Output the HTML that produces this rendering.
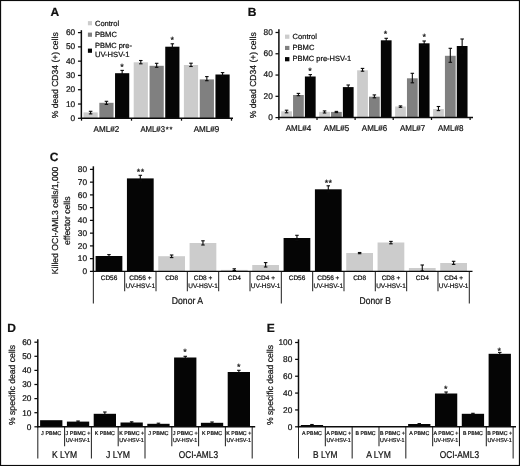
<!DOCTYPE html>
<html lang="en"><head><meta charset="utf-8"><title>Figure</title>
<style>
html,body{margin:0;padding:0;background:#fff;}
body{width:520px;height:466px;overflow:hidden;}
svg{display:block;font-family:"Liberation Sans", Arial, Helvetica, sans-serif;fill:#111;filter:blur(0.45px);text-rendering:geometricPrecision;}
text{stroke:#111;stroke-width:0.22px;}
</style></head><body>
<svg width="520" height="466" viewBox="0 0 520 466">
<rect x="0" y="0" width="520" height="466" fill="#ffffff"/>
<text x="50.40" y="16.00" font-size="12" text-anchor="start" font-weight="bold">A</text>
<text x="75.20" y="120.90" font-size="8.3" text-anchor="end">0</text>
<text x="75.20" y="106.62" font-size="8.3" text-anchor="end">10</text>
<text x="75.20" y="92.33" font-size="8.3" text-anchor="end">20</text>
<text x="75.20" y="78.05" font-size="8.3" text-anchor="end">30</text>
<text x="75.20" y="63.77" font-size="8.3" text-anchor="end">40</text>
<text x="75.20" y="49.48" font-size="8.3" text-anchor="end">50</text>
<text x="75.20" y="35.20" font-size="8.3" text-anchor="end">60</text>
<text x="57.90" y="75.30" font-size="8.7" text-anchor="middle" textLength="86.00" lengthAdjust="spacingAndGlyphs" transform="rotate(-90 57.90 75.30)">% dead CD34 (+) cells</text>
<rect x="83.50" y="112.40" width="14.20" height="5.90" fill="#cccccc"/>
<line x1="90.60" y1="111.30" x2="90.60" y2="113.90" stroke="#0a0a0a" stroke-width="1.1"/>
<line x1="88.85" y1="111.30" x2="92.35" y2="111.30" stroke="#0a0a0a" stroke-width="1.1"/>
<line x1="88.85" y1="113.90" x2="92.35" y2="113.90" stroke="#0a0a0a" stroke-width="1.1"/>
<rect x="99.35" y="102.80" width="14.20" height="15.50" fill="#808080"/>
<line x1="106.45" y1="101.30" x2="106.45" y2="104.40" stroke="#0a0a0a" stroke-width="1.1"/>
<line x1="104.70" y1="101.30" x2="108.20" y2="101.30" stroke="#0a0a0a" stroke-width="1.1"/>
<line x1="104.70" y1="104.40" x2="108.20" y2="104.40" stroke="#0a0a0a" stroke-width="1.1"/>
<rect x="115.05" y="73.20" width="14.20" height="45.10" fill="#050505"/>
<line x1="122.15" y1="70.40" x2="122.15" y2="76.00" stroke="#0a0a0a" stroke-width="1.1"/>
<line x1="120.40" y1="70.40" x2="123.90" y2="70.40" stroke="#0a0a0a" stroke-width="1.1"/>
<line x1="120.40" y1="76.00" x2="123.90" y2="76.00" stroke="#0a0a0a" stroke-width="1.1"/>
<rect x="133.70" y="62.30" width="14.20" height="56.00" fill="#cccccc"/>
<line x1="140.80" y1="60.50" x2="140.80" y2="63.80" stroke="#0a0a0a" stroke-width="1.1"/>
<line x1="139.05" y1="60.50" x2="142.55" y2="60.50" stroke="#0a0a0a" stroke-width="1.1"/>
<line x1="139.05" y1="63.80" x2="142.55" y2="63.80" stroke="#0a0a0a" stroke-width="1.1"/>
<rect x="149.55" y="65.80" width="14.20" height="52.50" fill="#808080"/>
<line x1="156.65" y1="63.30" x2="156.65" y2="67.30" stroke="#0a0a0a" stroke-width="1.1"/>
<line x1="154.90" y1="63.30" x2="158.40" y2="63.30" stroke="#0a0a0a" stroke-width="1.1"/>
<line x1="154.90" y1="67.30" x2="158.40" y2="67.30" stroke="#0a0a0a" stroke-width="1.1"/>
<rect x="165.25" y="46.70" width="14.20" height="71.60" fill="#050505"/>
<line x1="172.35" y1="43.80" x2="172.35" y2="49.50" stroke="#0a0a0a" stroke-width="1.1"/>
<line x1="170.60" y1="43.80" x2="174.10" y2="43.80" stroke="#0a0a0a" stroke-width="1.1"/>
<line x1="170.60" y1="49.50" x2="174.10" y2="49.50" stroke="#0a0a0a" stroke-width="1.1"/>
<rect x="183.90" y="65.00" width="14.20" height="53.30" fill="#cccccc"/>
<line x1="191.00" y1="63.20" x2="191.00" y2="66.50" stroke="#0a0a0a" stroke-width="1.1"/>
<line x1="189.25" y1="63.20" x2="192.75" y2="63.20" stroke="#0a0a0a" stroke-width="1.1"/>
<line x1="189.25" y1="66.50" x2="192.75" y2="66.50" stroke="#0a0a0a" stroke-width="1.1"/>
<rect x="199.75" y="79.40" width="14.20" height="38.90" fill="#808080"/>
<line x1="206.85" y1="76.60" x2="206.85" y2="80.70" stroke="#0a0a0a" stroke-width="1.1"/>
<line x1="205.10" y1="76.60" x2="208.60" y2="76.60" stroke="#0a0a0a" stroke-width="1.1"/>
<line x1="205.10" y1="80.70" x2="208.60" y2="80.70" stroke="#0a0a0a" stroke-width="1.1"/>
<rect x="215.45" y="74.50" width="14.20" height="43.80" fill="#050505"/>
<line x1="222.55" y1="72.60" x2="222.55" y2="76.40" stroke="#0a0a0a" stroke-width="1.1"/>
<line x1="220.80" y1="72.60" x2="224.30" y2="72.60" stroke="#0a0a0a" stroke-width="1.1"/>
<line x1="220.80" y1="76.40" x2="224.30" y2="76.40" stroke="#0a0a0a" stroke-width="1.1"/>
<text x="121.90" y="69.90" font-size="9" text-anchor="middle">*</text>
<text x="172.20" y="42.70" font-size="9" text-anchor="middle">*</text>
<text x="106.40" y="132.20" font-size="8.5" text-anchor="middle" textLength="25.60" lengthAdjust="spacingAndGlyphs">AML#2</text>
<text x="140.40" y="132.20" font-size="8.5" text-anchor="start" textLength="24.60" lengthAdjust="spacingAndGlyphs">AML#3</text>
<text x="167.30" y="131.95" font-size="7.5" text-anchor="middle">*</text>
<text x="171.00" y="131.95" font-size="7.5" text-anchor="middle">*</text>
<text x="206.50" y="132.20" font-size="8.5" text-anchor="middle" textLength="25.60" lengthAdjust="spacingAndGlyphs">AML#9</text>
<rect x="87.90" y="21.10" width="4.10" height="4.20" fill="#cccccc"/>
<text x="95.00" y="25.70" font-size="7.5" text-anchor="start" textLength="24.20" lengthAdjust="spacingAndGlyphs">Control</text>
<rect x="87.90" y="32.60" width="4.10" height="4.20" fill="#808080"/>
<text x="95.00" y="36.90" font-size="7.5" text-anchor="start" textLength="21.90" lengthAdjust="spacingAndGlyphs">PBMC</text>
<rect x="87.90" y="48.60" width="4.10" height="4.20" fill="#050505"/>
<text x="95.00" y="47.90" font-size="7.5" text-anchor="start" textLength="36.90" lengthAdjust="spacingAndGlyphs">PBMC pre-</text>
<text x="95.00" y="56.90" font-size="7.5" text-anchor="start" textLength="34.50" lengthAdjust="spacingAndGlyphs">UV-HSV-1</text>
<text x="247.80" y="15.80" font-size="12" text-anchor="start" font-weight="bold">B</text>
<text x="272.80" y="119.90" font-size="8.3" text-anchor="end">0</text>
<text x="272.80" y="98.62" font-size="8.3" text-anchor="end">20</text>
<text x="272.80" y="77.35" font-size="8.3" text-anchor="end">40</text>
<text x="272.80" y="56.07" font-size="8.3" text-anchor="end">60</text>
<text x="272.80" y="34.80" font-size="8.3" text-anchor="end">80</text>
<text x="255.60" y="75.30" font-size="8.7" text-anchor="middle" textLength="86.00" lengthAdjust="spacingAndGlyphs" transform="rotate(-90 255.60 75.30)">% dead CD34 (+) cells</text>
<rect x="281.20" y="111.30" width="10.75" height="6.30" fill="#cccccc"/>
<line x1="286.57" y1="110.20" x2="286.57" y2="112.80" stroke="#0a0a0a" stroke-width="1.1"/>
<line x1="284.82" y1="110.20" x2="288.32" y2="110.20" stroke="#0a0a0a" stroke-width="1.1"/>
<line x1="284.82" y1="112.80" x2="288.32" y2="112.80" stroke="#0a0a0a" stroke-width="1.1"/>
<rect x="293.05" y="95.00" width="10.75" height="22.60" fill="#808080"/>
<line x1="298.43" y1="93.40" x2="298.43" y2="95.70" stroke="#0a0a0a" stroke-width="1.1"/>
<line x1="296.68" y1="93.40" x2="300.18" y2="93.40" stroke="#0a0a0a" stroke-width="1.1"/>
<line x1="296.68" y1="95.70" x2="300.18" y2="95.70" stroke="#0a0a0a" stroke-width="1.1"/>
<rect x="304.90" y="76.50" width="10.75" height="41.10" fill="#050505"/>
<line x1="310.27" y1="74.60" x2="310.27" y2="78.00" stroke="#0a0a0a" stroke-width="1.1"/>
<line x1="308.52" y1="74.60" x2="312.02" y2="74.60" stroke="#0a0a0a" stroke-width="1.1"/>
<line x1="308.52" y1="78.00" x2="312.02" y2="78.00" stroke="#0a0a0a" stroke-width="1.1"/>
<rect x="319.17" y="111.80" width="10.75" height="5.80" fill="#cccccc"/>
<line x1="324.54" y1="110.90" x2="324.54" y2="113.00" stroke="#0a0a0a" stroke-width="1.1"/>
<line x1="322.79" y1="110.90" x2="326.29" y2="110.90" stroke="#0a0a0a" stroke-width="1.1"/>
<line x1="322.79" y1="113.00" x2="326.29" y2="113.00" stroke="#0a0a0a" stroke-width="1.1"/>
<rect x="331.02" y="111.90" width="10.75" height="5.70" fill="#808080"/>
<line x1="336.39" y1="111.40" x2="336.39" y2="112.60" stroke="#0a0a0a" stroke-width="1.1"/>
<line x1="334.64" y1="111.40" x2="338.14" y2="111.40" stroke="#0a0a0a" stroke-width="1.1"/>
<line x1="334.64" y1="112.60" x2="338.14" y2="112.60" stroke="#0a0a0a" stroke-width="1.1"/>
<rect x="342.87" y="87.10" width="10.75" height="30.50" fill="#050505"/>
<line x1="348.24" y1="85.00" x2="348.24" y2="89.00" stroke="#0a0a0a" stroke-width="1.1"/>
<line x1="346.49" y1="85.00" x2="349.99" y2="85.00" stroke="#0a0a0a" stroke-width="1.1"/>
<line x1="346.49" y1="89.00" x2="349.99" y2="89.00" stroke="#0a0a0a" stroke-width="1.1"/>
<rect x="357.14" y="70.30" width="10.75" height="47.30" fill="#cccccc"/>
<line x1="362.51" y1="68.40" x2="362.51" y2="71.20" stroke="#0a0a0a" stroke-width="1.1"/>
<line x1="360.76" y1="68.40" x2="364.26" y2="68.40" stroke="#0a0a0a" stroke-width="1.1"/>
<line x1="360.76" y1="71.20" x2="364.26" y2="71.20" stroke="#0a0a0a" stroke-width="1.1"/>
<rect x="368.99" y="96.70" width="10.75" height="20.90" fill="#808080"/>
<line x1="374.37" y1="94.90" x2="374.37" y2="97.80" stroke="#0a0a0a" stroke-width="1.1"/>
<line x1="372.62" y1="94.90" x2="376.12" y2="94.90" stroke="#0a0a0a" stroke-width="1.1"/>
<line x1="372.62" y1="97.80" x2="376.12" y2="97.80" stroke="#0a0a0a" stroke-width="1.1"/>
<rect x="380.84" y="40.30" width="10.75" height="77.30" fill="#050505"/>
<line x1="386.21" y1="38.30" x2="386.21" y2="42.00" stroke="#0a0a0a" stroke-width="1.1"/>
<line x1="384.46" y1="38.30" x2="387.96" y2="38.30" stroke="#0a0a0a" stroke-width="1.1"/>
<line x1="384.46" y1="42.00" x2="387.96" y2="42.00" stroke="#0a0a0a" stroke-width="1.1"/>
<rect x="395.11" y="106.50" width="10.75" height="11.10" fill="#cccccc"/>
<line x1="400.49" y1="105.90" x2="400.49" y2="107.30" stroke="#0a0a0a" stroke-width="1.1"/>
<line x1="398.74" y1="105.90" x2="402.24" y2="105.90" stroke="#0a0a0a" stroke-width="1.1"/>
<line x1="398.74" y1="107.30" x2="402.24" y2="107.30" stroke="#0a0a0a" stroke-width="1.1"/>
<rect x="406.96" y="78.30" width="10.75" height="39.30" fill="#808080"/>
<line x1="412.34" y1="73.30" x2="412.34" y2="82.80" stroke="#0a0a0a" stroke-width="1.1"/>
<line x1="410.59" y1="73.30" x2="414.09" y2="73.30" stroke="#0a0a0a" stroke-width="1.1"/>
<line x1="410.59" y1="82.80" x2="414.09" y2="82.80" stroke="#0a0a0a" stroke-width="1.1"/>
<rect x="418.81" y="43.30" width="10.75" height="74.30" fill="#050505"/>
<line x1="424.19" y1="41.00" x2="424.19" y2="45.50" stroke="#0a0a0a" stroke-width="1.1"/>
<line x1="422.44" y1="41.00" x2="425.94" y2="41.00" stroke="#0a0a0a" stroke-width="1.1"/>
<line x1="422.44" y1="45.50" x2="425.94" y2="45.50" stroke="#0a0a0a" stroke-width="1.1"/>
<rect x="433.08" y="109.00" width="10.75" height="8.60" fill="#cccccc"/>
<line x1="438.45" y1="106.50" x2="438.45" y2="110.60" stroke="#0a0a0a" stroke-width="1.1"/>
<line x1="436.70" y1="106.50" x2="440.20" y2="106.50" stroke="#0a0a0a" stroke-width="1.1"/>
<line x1="436.70" y1="110.60" x2="440.20" y2="110.60" stroke="#0a0a0a" stroke-width="1.1"/>
<rect x="444.93" y="55.80" width="10.75" height="61.80" fill="#808080"/>
<line x1="450.31" y1="48.30" x2="450.31" y2="62.30" stroke="#0a0a0a" stroke-width="1.1"/>
<line x1="448.56" y1="48.30" x2="452.06" y2="48.30" stroke="#0a0a0a" stroke-width="1.1"/>
<line x1="448.56" y1="62.30" x2="452.06" y2="62.30" stroke="#0a0a0a" stroke-width="1.1"/>
<rect x="456.78" y="46.00" width="10.75" height="71.60" fill="#050505"/>
<line x1="462.15" y1="39.00" x2="462.15" y2="53.00" stroke="#0a0a0a" stroke-width="1.1"/>
<line x1="460.40" y1="39.00" x2="463.90" y2="39.00" stroke="#0a0a0a" stroke-width="1.1"/>
<line x1="460.40" y1="53.00" x2="463.90" y2="53.00" stroke="#0a0a0a" stroke-width="1.1"/>
<text x="310.00" y="73.90" font-size="9" text-anchor="middle">*</text>
<text x="385.60" y="36.50" font-size="9" text-anchor="middle">*</text>
<text x="424.30" y="39.70" font-size="9" text-anchor="middle">*</text>
<text x="298.45" y="130.80" font-size="8.5" text-anchor="middle" textLength="25.40" lengthAdjust="spacingAndGlyphs">AML#4</text>
<text x="336.50" y="130.80" font-size="8.5" text-anchor="middle" textLength="25.40" lengthAdjust="spacingAndGlyphs">AML#5</text>
<text x="374.55" y="130.80" font-size="8.5" text-anchor="middle" textLength="25.40" lengthAdjust="spacingAndGlyphs">AML#6</text>
<text x="412.60" y="130.80" font-size="8.5" text-anchor="middle" textLength="25.40" lengthAdjust="spacingAndGlyphs">AML#7</text>
<text x="450.65" y="130.80" font-size="8.5" text-anchor="middle" textLength="25.40" lengthAdjust="spacingAndGlyphs">AML#8</text>
<rect x="285.00" y="34.60" width="4.40" height="4.20" fill="#cccccc"/>
<text x="292.50" y="38.90" font-size="7.5" text-anchor="start" textLength="24.40" lengthAdjust="spacingAndGlyphs">Control</text>
<rect x="285.00" y="45.90" width="4.40" height="4.10" fill="#808080"/>
<text x="292.50" y="50.10" font-size="7.5" text-anchor="start" textLength="21.90" lengthAdjust="spacingAndGlyphs">PBMC</text>
<rect x="285.00" y="57.10" width="4.40" height="4.20" fill="#050505"/>
<text x="292.50" y="61.30" font-size="7.5" text-anchor="start" textLength="58.80" lengthAdjust="spacingAndGlyphs">PBMC pre-HSV-1</text>
<text x="49.80" y="160.90" font-size="12" text-anchor="start" font-weight="bold">C</text>
<line x1="93.35" y1="271.40" x2="93.35" y2="303.50" stroke="#262626" stroke-width="1.05"/>
<text x="87.10" y="274.00" font-size="8.3" text-anchor="end">0</text>
<text x="87.10" y="261.25" font-size="8.3" text-anchor="end">10</text>
<text x="87.10" y="248.50" font-size="8.3" text-anchor="end">20</text>
<text x="87.10" y="235.75" font-size="8.3" text-anchor="end">30</text>
<text x="87.10" y="223.00" font-size="8.3" text-anchor="end">40</text>
<text x="87.10" y="210.25" font-size="8.3" text-anchor="end">50</text>
<text x="87.10" y="197.50" font-size="8.3" text-anchor="end">60</text>
<text x="87.10" y="184.75" font-size="8.3" text-anchor="end">70</text>
<text x="87.10" y="172.00" font-size="8.3" text-anchor="end">80</text>
<line x1="124.68" y1="271.40" x2="124.68" y2="291.30" stroke="#262626" stroke-width="1.05"/>
<line x1="156.01" y1="271.40" x2="156.01" y2="291.30" stroke="#262626" stroke-width="1.05"/>
<line x1="187.34" y1="271.40" x2="187.34" y2="291.30" stroke="#262626" stroke-width="1.05"/>
<line x1="218.67" y1="271.40" x2="218.67" y2="291.30" stroke="#262626" stroke-width="1.05"/>
<line x1="250.00" y1="271.40" x2="250.00" y2="291.30" stroke="#262626" stroke-width="1.05"/>
<line x1="281.33" y1="271.40" x2="281.33" y2="303.50" stroke="#262626" stroke-width="1.05"/>
<line x1="312.66" y1="271.40" x2="312.66" y2="291.30" stroke="#262626" stroke-width="1.05"/>
<line x1="343.99" y1="271.40" x2="343.99" y2="291.30" stroke="#262626" stroke-width="1.05"/>
<line x1="375.32" y1="271.40" x2="375.32" y2="291.30" stroke="#262626" stroke-width="1.05"/>
<line x1="406.65" y1="271.40" x2="406.65" y2="291.30" stroke="#262626" stroke-width="1.05"/>
<line x1="437.98" y1="271.40" x2="437.98" y2="291.30" stroke="#262626" stroke-width="1.05"/>
<line x1="469.31" y1="271.40" x2="469.31" y2="303.50" stroke="#262626" stroke-width="1.05"/>
<text x="58.00" y="220.40" font-size="8.7" text-anchor="middle" textLength="107.50" lengthAdjust="spacingAndGlyphs" transform="rotate(-90 58.00 220.40)">Killed OCI-AML3 cells/1,000</text>
<text x="70.30" y="220.70" font-size="8.7" text-anchor="middle" textLength="48.50" lengthAdjust="spacingAndGlyphs" transform="rotate(-90 70.30 220.70)">effector cells</text>
<rect x="95.60" y="256.00" width="26.75" height="15.40" fill="#050505"/>
<line x1="108.97" y1="254.60" x2="108.97" y2="257.50" stroke="#0a0a0a" stroke-width="1.1"/>
<line x1="107.22" y1="254.60" x2="110.72" y2="254.60" stroke="#0a0a0a" stroke-width="1.1"/>
<line x1="107.22" y1="257.50" x2="110.72" y2="257.50" stroke="#0a0a0a" stroke-width="1.1"/>
<text x="109.01" y="280.00" font-size="6.5" text-anchor="middle">CD56</text>
<rect x="126.93" y="178.40" width="26.75" height="93.00" fill="#050505"/>
<line x1="140.31" y1="175.30" x2="140.31" y2="181.00" stroke="#0a0a0a" stroke-width="1.1"/>
<line x1="138.56" y1="175.30" x2="142.06" y2="175.30" stroke="#0a0a0a" stroke-width="1.1"/>
<line x1="138.56" y1="181.00" x2="142.06" y2="181.00" stroke="#0a0a0a" stroke-width="1.1"/>
<text x="140.34" y="280.00" font-size="6.5" text-anchor="middle">CD56 +</text>
<text x="140.34" y="288.00" font-size="6.5" text-anchor="middle" textLength="29.60" lengthAdjust="spacingAndGlyphs">UV-HSV-1</text>
<rect x="158.26" y="256.20" width="26.75" height="15.20" fill="#cccccc"/>
<line x1="171.63" y1="255.00" x2="171.63" y2="257.60" stroke="#0a0a0a" stroke-width="1.1"/>
<line x1="169.88" y1="255.00" x2="173.38" y2="255.00" stroke="#0a0a0a" stroke-width="1.1"/>
<line x1="169.88" y1="257.60" x2="173.38" y2="257.60" stroke="#0a0a0a" stroke-width="1.1"/>
<text x="171.67" y="280.00" font-size="6.5" text-anchor="middle">CD8</text>
<rect x="189.59" y="243.00" width="26.75" height="28.40" fill="#cccccc"/>
<line x1="202.96" y1="240.80" x2="202.96" y2="245.00" stroke="#0a0a0a" stroke-width="1.1"/>
<line x1="201.21" y1="240.80" x2="204.71" y2="240.80" stroke="#0a0a0a" stroke-width="1.1"/>
<line x1="201.21" y1="245.00" x2="204.71" y2="245.00" stroke="#0a0a0a" stroke-width="1.1"/>
<text x="203.00" y="280.00" font-size="6.5" text-anchor="middle">CD8 +</text>
<text x="203.00" y="288.00" font-size="6.5" text-anchor="middle" textLength="29.60" lengthAdjust="spacingAndGlyphs">UV-HSV-1</text>
<rect x="220.92" y="269.90" width="26.75" height="1.50" fill="#cccccc"/>
<line x1="234.29" y1="268.80" x2="234.29" y2="270.50" stroke="#0a0a0a" stroke-width="1.1"/>
<line x1="232.54" y1="268.80" x2="236.04" y2="268.80" stroke="#0a0a0a" stroke-width="1.1"/>
<line x1="232.54" y1="270.50" x2="236.04" y2="270.50" stroke="#0a0a0a" stroke-width="1.1"/>
<text x="234.33" y="280.00" font-size="6.5" text-anchor="middle">CD4</text>
<rect x="252.25" y="265.00" width="26.75" height="6.40" fill="#cccccc"/>
<line x1="265.62" y1="262.60" x2="265.62" y2="267.00" stroke="#0a0a0a" stroke-width="1.1"/>
<line x1="263.88" y1="262.60" x2="267.38" y2="262.60" stroke="#0a0a0a" stroke-width="1.1"/>
<line x1="263.88" y1="267.00" x2="267.38" y2="267.00" stroke="#0a0a0a" stroke-width="1.1"/>
<text x="265.66" y="280.00" font-size="6.5" text-anchor="middle">CD4 +</text>
<text x="265.66" y="288.00" font-size="6.5" text-anchor="middle" textLength="29.60" lengthAdjust="spacingAndGlyphs">UV-HSV-1</text>
<rect x="283.58" y="238.00" width="26.75" height="33.40" fill="#050505"/>
<line x1="296.95" y1="235.30" x2="296.95" y2="240.50" stroke="#0a0a0a" stroke-width="1.1"/>
<line x1="295.20" y1="235.30" x2="298.70" y2="235.30" stroke="#0a0a0a" stroke-width="1.1"/>
<line x1="295.20" y1="240.50" x2="298.70" y2="240.50" stroke="#0a0a0a" stroke-width="1.1"/>
<text x="297.00" y="280.00" font-size="6.5" text-anchor="middle">CD56</text>
<rect x="314.91" y="189.30" width="26.75" height="82.10" fill="#050505"/>
<line x1="328.28" y1="185.80" x2="328.28" y2="192.00" stroke="#0a0a0a" stroke-width="1.1"/>
<line x1="326.53" y1="185.80" x2="330.03" y2="185.80" stroke="#0a0a0a" stroke-width="1.1"/>
<line x1="326.53" y1="192.00" x2="330.03" y2="192.00" stroke="#0a0a0a" stroke-width="1.1"/>
<text x="328.32" y="280.00" font-size="6.5" text-anchor="middle">CD56 +</text>
<text x="328.32" y="288.00" font-size="6.5" text-anchor="middle" textLength="29.60" lengthAdjust="spacingAndGlyphs">UV-HSV-1</text>
<rect x="346.24" y="253.00" width="26.75" height="18.40" fill="#cccccc"/>
<line x1="359.62" y1="252.50" x2="359.62" y2="253.70" stroke="#0a0a0a" stroke-width="1.1"/>
<line x1="357.87" y1="252.50" x2="361.37" y2="252.50" stroke="#0a0a0a" stroke-width="1.1"/>
<line x1="357.87" y1="253.70" x2="361.37" y2="253.70" stroke="#0a0a0a" stroke-width="1.1"/>
<text x="359.66" y="280.00" font-size="6.5" text-anchor="middle">CD8</text>
<rect x="377.57" y="242.50" width="26.75" height="28.90" fill="#cccccc"/>
<line x1="390.94" y1="241.40" x2="390.94" y2="243.80" stroke="#0a0a0a" stroke-width="1.1"/>
<line x1="389.19" y1="241.40" x2="392.69" y2="241.40" stroke="#0a0a0a" stroke-width="1.1"/>
<line x1="389.19" y1="243.80" x2="392.69" y2="243.80" stroke="#0a0a0a" stroke-width="1.1"/>
<text x="390.98" y="280.00" font-size="6.5" text-anchor="middle">CD8 +</text>
<text x="390.98" y="288.00" font-size="6.5" text-anchor="middle" textLength="29.60" lengthAdjust="spacingAndGlyphs">UV-HSV-1</text>
<rect x="408.90" y="268.00" width="26.75" height="3.40" fill="#cccccc"/>
<line x1="422.27" y1="265.00" x2="422.27" y2="271.00" stroke="#0a0a0a" stroke-width="1.1"/>
<line x1="420.52" y1="265.00" x2="424.02" y2="265.00" stroke="#0a0a0a" stroke-width="1.1"/>
<line x1="420.52" y1="271.00" x2="424.02" y2="271.00" stroke="#0a0a0a" stroke-width="1.1"/>
<text x="422.31" y="280.00" font-size="6.5" text-anchor="middle">CD4</text>
<rect x="440.23" y="263.00" width="26.75" height="8.40" fill="#cccccc"/>
<line x1="453.61" y1="261.30" x2="453.61" y2="264.40" stroke="#0a0a0a" stroke-width="1.1"/>
<line x1="451.86" y1="261.30" x2="455.36" y2="261.30" stroke="#0a0a0a" stroke-width="1.1"/>
<line x1="451.86" y1="264.40" x2="455.36" y2="264.40" stroke="#0a0a0a" stroke-width="1.1"/>
<text x="453.65" y="280.00" font-size="6.5" text-anchor="middle">CD4 +</text>
<text x="453.65" y="288.00" font-size="6.5" text-anchor="middle" textLength="29.60" lengthAdjust="spacingAndGlyphs">UV-HSV-1</text>
<text x="138.60" y="175.10" font-size="9" text-anchor="middle">*</text>
<text x="142.40" y="175.10" font-size="9" text-anchor="middle">*</text>
<text x="326.40" y="186.30" font-size="9" text-anchor="middle">*</text>
<text x="330.20" y="186.30" font-size="9" text-anchor="middle">*</text>
<text x="187.40" y="303.70" font-size="9.8" text-anchor="middle" textLength="31.30" lengthAdjust="spacingAndGlyphs">Donor A</text>
<text x="375.20" y="303.70" font-size="9.8" text-anchor="middle" textLength="31.30" lengthAdjust="spacingAndGlyphs">Donor B</text>
<text x="7.20" y="331.80" font-size="12" text-anchor="start" font-weight="bold">D</text>
<line x1="37.80" y1="426.80" x2="37.80" y2="458.50" stroke="#262626" stroke-width="1.05"/>
<text x="31.40" y="429.65" font-size="8.3" text-anchor="end">0</text>
<text x="31.40" y="415.55" font-size="8.3" text-anchor="end">10</text>
<text x="31.40" y="401.45" font-size="8.3" text-anchor="end">20</text>
<text x="31.40" y="387.35" font-size="8.3" text-anchor="end">30</text>
<text x="31.40" y="373.25" font-size="8.3" text-anchor="end">40</text>
<text x="31.40" y="359.15" font-size="8.3" text-anchor="end">50</text>
<text x="31.40" y="345.05" font-size="8.3" text-anchor="end">60</text>
<line x1="64.60" y1="426.80" x2="64.60" y2="446.20" stroke="#262626" stroke-width="1.05"/>
<line x1="91.40" y1="426.80" x2="91.40" y2="458.50" stroke="#262626" stroke-width="1.05"/>
<line x1="118.20" y1="426.80" x2="118.20" y2="446.20" stroke="#262626" stroke-width="1.05"/>
<line x1="145.00" y1="426.80" x2="145.00" y2="458.50" stroke="#262626" stroke-width="1.05"/>
<line x1="171.80" y1="426.80" x2="171.80" y2="446.20" stroke="#262626" stroke-width="1.05"/>
<line x1="198.60" y1="426.80" x2="198.60" y2="446.20" stroke="#262626" stroke-width="1.05"/>
<line x1="225.40" y1="426.80" x2="225.40" y2="446.20" stroke="#262626" stroke-width="1.05"/>
<line x1="252.20" y1="426.80" x2="252.20" y2="458.50" stroke="#262626" stroke-width="1.05"/>
<text x="15.20" y="385.00" font-size="8.7" text-anchor="middle" textLength="80.00" lengthAdjust="spacingAndGlyphs" transform="rotate(-90 15.20 385.00)">% specific dead cells</text>
<rect x="40.10" y="420.20" width="22.30" height="6.60" fill="#050505"/>
<text x="51.20" y="434.70" font-size="5.5" text-anchor="middle" textLength="20.20" lengthAdjust="spacingAndGlyphs">J PBMC</text>
<rect x="66.90" y="421.60" width="22.30" height="5.20" fill="#050505"/>
<line x1="78.05" y1="421.00" x2="78.05" y2="422.20" stroke="#0a0a0a" stroke-width="1.1"/>
<line x1="76.30" y1="421.00" x2="79.80" y2="421.00" stroke="#0a0a0a" stroke-width="1.1"/>
<line x1="76.30" y1="422.20" x2="79.80" y2="422.20" stroke="#0a0a0a" stroke-width="1.1"/>
<text x="78.00" y="434.70" font-size="5.5" text-anchor="middle" textLength="24.90" lengthAdjust="spacingAndGlyphs">J PBMC +</text>
<text x="77.90" y="441.60" font-size="5.5" text-anchor="middle" textLength="24.40" lengthAdjust="spacingAndGlyphs">UV-HSV-1</text>
<rect x="93.70" y="413.80" width="22.30" height="13.00" fill="#050505"/>
<line x1="104.85" y1="412.00" x2="104.85" y2="415.50" stroke="#0a0a0a" stroke-width="1.1"/>
<line x1="103.10" y1="412.00" x2="106.60" y2="412.00" stroke="#0a0a0a" stroke-width="1.1"/>
<line x1="103.10" y1="415.50" x2="106.60" y2="415.50" stroke="#0a0a0a" stroke-width="1.1"/>
<text x="104.80" y="434.70" font-size="5.5" text-anchor="middle" textLength="20.20" lengthAdjust="spacingAndGlyphs">K PBMC</text>
<rect x="120.50" y="422.50" width="22.30" height="4.30" fill="#050505"/>
<line x1="131.65" y1="421.80" x2="131.65" y2="423.20" stroke="#0a0a0a" stroke-width="1.1"/>
<line x1="129.90" y1="421.80" x2="133.40" y2="421.80" stroke="#0a0a0a" stroke-width="1.1"/>
<line x1="129.90" y1="423.20" x2="133.40" y2="423.20" stroke="#0a0a0a" stroke-width="1.1"/>
<text x="131.60" y="434.70" font-size="5.5" text-anchor="middle" textLength="24.90" lengthAdjust="spacingAndGlyphs">K PBMC +</text>
<text x="131.50" y="441.60" font-size="5.5" text-anchor="middle" textLength="24.40" lengthAdjust="spacingAndGlyphs">UV-HSV-1</text>
<rect x="147.30" y="423.80" width="22.30" height="3.00" fill="#050505"/>
<line x1="158.45" y1="423.20" x2="158.45" y2="424.40" stroke="#0a0a0a" stroke-width="1.1"/>
<line x1="156.70" y1="423.20" x2="160.20" y2="423.20" stroke="#0a0a0a" stroke-width="1.1"/>
<line x1="156.70" y1="424.40" x2="160.20" y2="424.40" stroke="#0a0a0a" stroke-width="1.1"/>
<text x="158.40" y="434.70" font-size="5.5" text-anchor="middle" textLength="20.20" lengthAdjust="spacingAndGlyphs">J PBMC</text>
<rect x="174.10" y="357.50" width="22.30" height="69.30" fill="#050505"/>
<line x1="185.25" y1="356.30" x2="185.25" y2="359.00" stroke="#0a0a0a" stroke-width="1.1"/>
<line x1="183.50" y1="356.30" x2="187.00" y2="356.30" stroke="#0a0a0a" stroke-width="1.1"/>
<line x1="183.50" y1="359.00" x2="187.00" y2="359.00" stroke="#0a0a0a" stroke-width="1.1"/>
<text x="185.20" y="434.70" font-size="5.5" text-anchor="middle" textLength="24.90" lengthAdjust="spacingAndGlyphs">J PBMC +</text>
<text x="185.10" y="441.60" font-size="5.5" text-anchor="middle" textLength="24.40" lengthAdjust="spacingAndGlyphs">UV-HSV-1</text>
<rect x="200.90" y="422.80" width="22.30" height="4.00" fill="#050505"/>
<line x1="212.05" y1="422.00" x2="212.05" y2="423.50" stroke="#0a0a0a" stroke-width="1.1"/>
<line x1="210.30" y1="422.00" x2="213.80" y2="422.00" stroke="#0a0a0a" stroke-width="1.1"/>
<line x1="210.30" y1="423.50" x2="213.80" y2="423.50" stroke="#0a0a0a" stroke-width="1.1"/>
<text x="212.00" y="434.70" font-size="5.5" text-anchor="middle" textLength="20.20" lengthAdjust="spacingAndGlyphs">K PBMC</text>
<rect x="227.70" y="372.00" width="22.30" height="54.80" fill="#050505"/>
<line x1="238.85" y1="370.30" x2="238.85" y2="374.00" stroke="#0a0a0a" stroke-width="1.1"/>
<line x1="237.10" y1="370.30" x2="240.60" y2="370.30" stroke="#0a0a0a" stroke-width="1.1"/>
<line x1="237.10" y1="374.00" x2="240.60" y2="374.00" stroke="#0a0a0a" stroke-width="1.1"/>
<text x="238.80" y="434.70" font-size="5.5" text-anchor="middle" textLength="24.90" lengthAdjust="spacingAndGlyphs">K PBMC +</text>
<text x="238.70" y="441.60" font-size="5.5" text-anchor="middle" textLength="24.40" lengthAdjust="spacingAndGlyphs">UV-HSV-1</text>
<text x="185.00" y="355.30" font-size="9" text-anchor="middle">*</text>
<text x="238.80" y="370.30" font-size="9" text-anchor="middle">*</text>
<text x="64.50" y="458.00" font-size="9.9" text-anchor="middle" textLength="25.00" lengthAdjust="spacingAndGlyphs">K LYM</text>
<text x="118.00" y="458.00" font-size="9.9" text-anchor="middle" textLength="24.00" lengthAdjust="spacingAndGlyphs">J LYM</text>
<text x="198.40" y="458.00" font-size="9.9" text-anchor="middle" textLength="39.30" lengthAdjust="spacingAndGlyphs">OCI-AML3</text>
<text x="266.80" y="331.80" font-size="12" text-anchor="start" font-weight="bold">E</text>
<line x1="298.50" y1="426.80" x2="298.50" y2="458.50" stroke="#262626" stroke-width="1.05"/>
<text x="292.30" y="429.50" font-size="8.3" text-anchor="end">0</text>
<text x="292.30" y="412.64" font-size="8.3" text-anchor="end">20</text>
<text x="292.30" y="395.78" font-size="8.3" text-anchor="end">40</text>
<text x="292.30" y="378.92" font-size="8.3" text-anchor="end">60</text>
<text x="292.30" y="362.06" font-size="8.3" text-anchor="end">80</text>
<text x="292.30" y="345.20" font-size="8.3" text-anchor="end">100</text>
<line x1="325.33" y1="426.80" x2="325.33" y2="446.20" stroke="#262626" stroke-width="1.05"/>
<line x1="352.16" y1="426.80" x2="352.16" y2="458.50" stroke="#262626" stroke-width="1.05"/>
<line x1="378.99" y1="426.80" x2="378.99" y2="446.20" stroke="#262626" stroke-width="1.05"/>
<line x1="405.82" y1="426.80" x2="405.82" y2="458.50" stroke="#262626" stroke-width="1.05"/>
<line x1="432.65" y1="426.80" x2="432.65" y2="446.20" stroke="#262626" stroke-width="1.05"/>
<line x1="459.48" y1="426.80" x2="459.48" y2="446.20" stroke="#262626" stroke-width="1.05"/>
<line x1="486.31" y1="426.80" x2="486.31" y2="446.20" stroke="#262626" stroke-width="1.05"/>
<line x1="513.14" y1="426.80" x2="513.14" y2="458.50" stroke="#262626" stroke-width="1.05"/>
<text x="273.00" y="385.00" font-size="8.7" text-anchor="middle" textLength="80.00" lengthAdjust="spacingAndGlyphs" transform="rotate(-90 273.00 385.00)">% specific dead cells</text>
<rect x="300.80" y="425.00" width="22.30" height="1.80" fill="#050505"/>
<line x1="311.95" y1="424.50" x2="311.95" y2="425.60" stroke="#0a0a0a" stroke-width="1.1"/>
<line x1="310.20" y1="424.50" x2="313.70" y2="424.50" stroke="#0a0a0a" stroke-width="1.1"/>
<line x1="310.20" y1="425.60" x2="313.70" y2="425.60" stroke="#0a0a0a" stroke-width="1.1"/>
<text x="311.90" y="434.70" font-size="5.5" text-anchor="middle" textLength="20.00" lengthAdjust="spacingAndGlyphs">A PBMC</text>
<rect x="327.63" y="426.00" width="22.30" height="0.80" fill="#050505"/>
<text x="338.73" y="434.70" font-size="5.5" text-anchor="middle" textLength="24.90" lengthAdjust="spacingAndGlyphs">A PBMC +</text>
<text x="338.63" y="441.60" font-size="5.5" text-anchor="middle" textLength="24.40" lengthAdjust="spacingAndGlyphs">UV-HSV-1</text>
<rect x="354.46" y="426.00" width="22.30" height="0.80" fill="#050505"/>
<text x="365.56" y="434.70" font-size="5.5" text-anchor="middle" textLength="20.00" lengthAdjust="spacingAndGlyphs">B PBMC</text>
<rect x="381.29" y="426.00" width="22.30" height="0.80" fill="#050505"/>
<text x="392.39" y="434.70" font-size="5.5" text-anchor="middle" textLength="24.90" lengthAdjust="spacingAndGlyphs">B PBMC +</text>
<text x="392.29" y="441.60" font-size="5.5" text-anchor="middle" textLength="24.40" lengthAdjust="spacingAndGlyphs">UV-HSV-1</text>
<rect x="408.12" y="424.00" width="22.30" height="2.80" fill="#050505"/>
<line x1="419.27" y1="423.60" x2="419.27" y2="424.50" stroke="#0a0a0a" stroke-width="1.1"/>
<line x1="417.52" y1="423.60" x2="421.02" y2="423.60" stroke="#0a0a0a" stroke-width="1.1"/>
<line x1="417.52" y1="424.50" x2="421.02" y2="424.50" stroke="#0a0a0a" stroke-width="1.1"/>
<text x="419.22" y="434.70" font-size="5.5" text-anchor="middle" textLength="20.00" lengthAdjust="spacingAndGlyphs">A PBMC</text>
<rect x="434.95" y="393.50" width="22.30" height="33.30" fill="#050505"/>
<line x1="446.10" y1="392.00" x2="446.10" y2="395.00" stroke="#0a0a0a" stroke-width="1.1"/>
<line x1="444.35" y1="392.00" x2="447.85" y2="392.00" stroke="#0a0a0a" stroke-width="1.1"/>
<line x1="444.35" y1="395.00" x2="447.85" y2="395.00" stroke="#0a0a0a" stroke-width="1.1"/>
<text x="446.05" y="434.70" font-size="5.5" text-anchor="middle" textLength="24.90" lengthAdjust="spacingAndGlyphs">A PBMC +</text>
<text x="445.95" y="441.60" font-size="5.5" text-anchor="middle" textLength="24.40" lengthAdjust="spacingAndGlyphs">UV-HSV-1</text>
<rect x="461.78" y="413.80" width="22.30" height="13.00" fill="#050505"/>
<line x1="472.93" y1="413.30" x2="472.93" y2="414.40" stroke="#0a0a0a" stroke-width="1.1"/>
<line x1="471.18" y1="413.30" x2="474.68" y2="413.30" stroke="#0a0a0a" stroke-width="1.1"/>
<line x1="471.18" y1="414.40" x2="474.68" y2="414.40" stroke="#0a0a0a" stroke-width="1.1"/>
<text x="472.88" y="434.70" font-size="5.5" text-anchor="middle" textLength="20.00" lengthAdjust="spacingAndGlyphs">B PBMC</text>
<rect x="488.61" y="353.80" width="22.30" height="73.00" fill="#050505"/>
<line x1="499.76" y1="352.40" x2="499.76" y2="355.00" stroke="#0a0a0a" stroke-width="1.1"/>
<line x1="498.01" y1="352.40" x2="501.51" y2="352.40" stroke="#0a0a0a" stroke-width="1.1"/>
<line x1="498.01" y1="355.00" x2="501.51" y2="355.00" stroke="#0a0a0a" stroke-width="1.1"/>
<text x="499.71" y="434.70" font-size="5.5" text-anchor="middle" textLength="24.90" lengthAdjust="spacingAndGlyphs">B PBMC +</text>
<text x="499.61" y="441.60" font-size="5.5" text-anchor="middle" textLength="24.40" lengthAdjust="spacingAndGlyphs">UV-HSV-1</text>
<text x="445.80" y="391.50" font-size="9" text-anchor="middle">*</text>
<text x="499.30" y="353.80" font-size="9" text-anchor="middle">*</text>
<text x="325.30" y="458.00" font-size="9.9" text-anchor="middle" textLength="24.50" lengthAdjust="spacingAndGlyphs">B LYM</text>
<text x="378.50" y="458.00" font-size="9.9" text-anchor="middle" textLength="24.50" lengthAdjust="spacingAndGlyphs">A LYM</text>
<text x="459.40" y="458.00" font-size="9.9" text-anchor="middle" textLength="39.30" lengthAdjust="spacingAndGlyphs">OCI-AML3</text>
<line x1="81.35" y1="30.20" x2="81.35" y2="118.80" stroke="#0c0c0c" stroke-width="1.5"/>
<line x1="77.95" y1="118.30" x2="81.35" y2="118.30" stroke="#0c0c0c" stroke-width="1.25"/>
<line x1="77.95" y1="104.02" x2="81.35" y2="104.02" stroke="#0c0c0c" stroke-width="1.25"/>
<line x1="77.95" y1="89.73" x2="81.35" y2="89.73" stroke="#0c0c0c" stroke-width="1.25"/>
<line x1="77.95" y1="75.45" x2="81.35" y2="75.45" stroke="#0c0c0c" stroke-width="1.25"/>
<line x1="77.95" y1="61.17" x2="81.35" y2="61.17" stroke="#0c0c0c" stroke-width="1.25"/>
<line x1="77.95" y1="46.88" x2="81.35" y2="46.88" stroke="#0c0c0c" stroke-width="1.25"/>
<line x1="77.95" y1="32.60" x2="81.35" y2="32.60" stroke="#0c0c0c" stroke-width="1.25"/>
<line x1="80.75" y1="118.30" x2="233.00" y2="118.30" stroke="#0c0c0c" stroke-width="1.5"/>
<line x1="81.50" y1="118.30" x2="81.50" y2="120.70" stroke="#0c0c0c" stroke-width="1.25"/>
<line x1="131.50" y1="118.30" x2="131.50" y2="120.70" stroke="#0c0c0c" stroke-width="1.25"/>
<line x1="181.50" y1="118.30" x2="181.50" y2="120.70" stroke="#0c0c0c" stroke-width="1.25"/>
<line x1="231.50" y1="118.30" x2="231.50" y2="120.70" stroke="#0c0c0c" stroke-width="1.25"/>
<line x1="278.90" y1="29.30" x2="278.90" y2="118.10" stroke="#0c0c0c" stroke-width="1.5"/>
<line x1="275.50" y1="117.60" x2="278.90" y2="117.60" stroke="#0c0c0c" stroke-width="1.25"/>
<line x1="275.50" y1="96.32" x2="278.90" y2="96.32" stroke="#0c0c0c" stroke-width="1.25"/>
<line x1="275.50" y1="75.05" x2="278.90" y2="75.05" stroke="#0c0c0c" stroke-width="1.25"/>
<line x1="275.50" y1="53.77" x2="278.90" y2="53.77" stroke="#0c0c0c" stroke-width="1.25"/>
<line x1="275.50" y1="32.50" x2="278.90" y2="32.50" stroke="#0c0c0c" stroke-width="1.25"/>
<line x1="278.30" y1="117.60" x2="473.00" y2="117.60" stroke="#0c0c0c" stroke-width="1.5"/>
<line x1="278.90" y1="117.60" x2="278.90" y2="120.00" stroke="#0c0c0c" stroke-width="1.25"/>
<line x1="317.00" y1="117.60" x2="317.00" y2="120.00" stroke="#0c0c0c" stroke-width="1.25"/>
<line x1="355.10" y1="117.60" x2="355.10" y2="120.00" stroke="#0c0c0c" stroke-width="1.25"/>
<line x1="393.20" y1="117.60" x2="393.20" y2="120.00" stroke="#0c0c0c" stroke-width="1.25"/>
<line x1="431.50" y1="117.60" x2="431.50" y2="120.00" stroke="#0c0c0c" stroke-width="1.25"/>
<line x1="470.10" y1="117.60" x2="470.10" y2="120.00" stroke="#0c0c0c" stroke-width="1.25"/>
<line x1="93.35" y1="166.30" x2="93.35" y2="271.90" stroke="#0c0c0c" stroke-width="1.5"/>
<line x1="89.95" y1="271.40" x2="93.35" y2="271.40" stroke="#0c0c0c" stroke-width="1.25"/>
<line x1="89.95" y1="258.65" x2="93.35" y2="258.65" stroke="#0c0c0c" stroke-width="1.25"/>
<line x1="89.95" y1="245.90" x2="93.35" y2="245.90" stroke="#0c0c0c" stroke-width="1.25"/>
<line x1="89.95" y1="233.15" x2="93.35" y2="233.15" stroke="#0c0c0c" stroke-width="1.25"/>
<line x1="89.95" y1="220.40" x2="93.35" y2="220.40" stroke="#0c0c0c" stroke-width="1.25"/>
<line x1="89.95" y1="207.65" x2="93.35" y2="207.65" stroke="#0c0c0c" stroke-width="1.25"/>
<line x1="89.95" y1="194.90" x2="93.35" y2="194.90" stroke="#0c0c0c" stroke-width="1.25"/>
<line x1="89.95" y1="182.15" x2="93.35" y2="182.15" stroke="#0c0c0c" stroke-width="1.25"/>
<line x1="89.95" y1="169.40" x2="93.35" y2="169.40" stroke="#0c0c0c" stroke-width="1.25"/>
<line x1="92.75" y1="271.40" x2="472.50" y2="271.40" stroke="#0c0c0c" stroke-width="1.3"/>
<line x1="37.80" y1="339.30" x2="37.80" y2="427.30" stroke="#0c0c0c" stroke-width="1.5"/>
<line x1="34.40" y1="426.80" x2="37.80" y2="426.80" stroke="#0c0c0c" stroke-width="1.25"/>
<line x1="34.40" y1="412.70" x2="37.80" y2="412.70" stroke="#0c0c0c" stroke-width="1.25"/>
<line x1="34.40" y1="398.60" x2="37.80" y2="398.60" stroke="#0c0c0c" stroke-width="1.25"/>
<line x1="34.40" y1="384.50" x2="37.80" y2="384.50" stroke="#0c0c0c" stroke-width="1.25"/>
<line x1="34.40" y1="370.40" x2="37.80" y2="370.40" stroke="#0c0c0c" stroke-width="1.25"/>
<line x1="34.40" y1="356.30" x2="37.80" y2="356.30" stroke="#0c0c0c" stroke-width="1.25"/>
<line x1="34.40" y1="342.20" x2="37.80" y2="342.20" stroke="#0c0c0c" stroke-width="1.25"/>
<line x1="37.20" y1="426.80" x2="255.20" y2="426.80" stroke="#0c0c0c" stroke-width="1.5"/>
<line x1="298.50" y1="339.30" x2="298.50" y2="427.30" stroke="#0c0c0c" stroke-width="1.5"/>
<line x1="295.10" y1="426.80" x2="298.50" y2="426.80" stroke="#0c0c0c" stroke-width="1.25"/>
<line x1="295.10" y1="409.94" x2="298.50" y2="409.94" stroke="#0c0c0c" stroke-width="1.25"/>
<line x1="295.10" y1="393.08" x2="298.50" y2="393.08" stroke="#0c0c0c" stroke-width="1.25"/>
<line x1="295.10" y1="376.22" x2="298.50" y2="376.22" stroke="#0c0c0c" stroke-width="1.25"/>
<line x1="295.10" y1="359.36" x2="298.50" y2="359.36" stroke="#0c0c0c" stroke-width="1.25"/>
<line x1="295.10" y1="342.50" x2="298.50" y2="342.50" stroke="#0c0c0c" stroke-width="1.25"/>
<line x1="297.90" y1="426.80" x2="516.00" y2="426.80" stroke="#0c0c0c" stroke-width="1.5"/>
<rect x="0.55" y="0.5" width="518.9" height="465" fill="none" stroke="#0a0a0a" stroke-width="1.15"/>
</svg>
</body></html>
